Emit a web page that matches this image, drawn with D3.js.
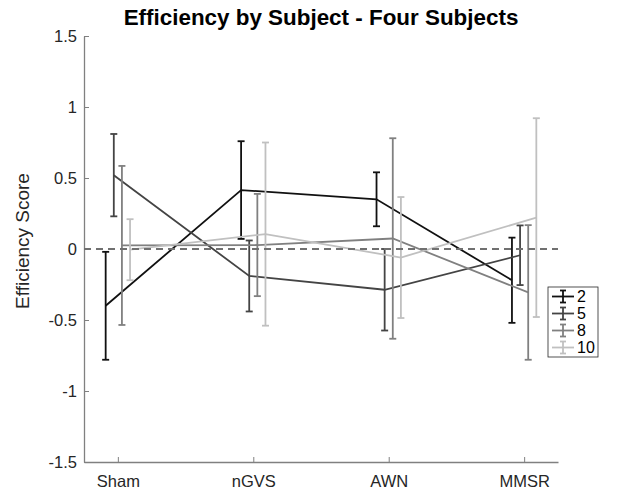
<!DOCTYPE html>
<html>
<head>
<meta charset="utf-8">
<script src="https://cdn.jsdelivr.net/npm/d3@7"></script>
<style>
  html, body { margin: 0; padding: 0; background: #fff; }
  svg { display: block; font-family: "Liberation Sans", Arial, sans-serif; }
</style>
</head>
<body>
<svg id="chart" width="638" height="493"></svg>
<script>
// ---- data ----
const conditions = ["Sham", "nGVS", "AWN", "MMSR"];
const subjects = ["2", "5", "8", "10"];
const mean2  = [-0.40, 0.415, 0.35, -0.22];
const mean5  = [0.52, -0.19, -0.287, -0.044];
const mean8  = [0.025, 0.028, 0.074, -0.306];
const mean10 = [-0.005, 0.105, -0.06, 0.221];
const err2  = [0.38, 0.344, 0.19, 0.30];
const err5  = [0.29, 0.25, 0.287, 0.21];
const err8  = [0.56, 0.36, 0.706, 0.474];
const err10 = [0.215, 0.645, 0.426, 0.70];
const yTicks = [-1.5, -1, -0.5, 0, 0.5, 1, 1.5];
const titleText = "Efficiency by Subject - Four Subjects";
const yLabelText = "Efficiency Score";

const means = [mean2, mean5, mean8, mean10];
const errs = [err2, err5, err8, err10];
const colors = ["#111111", "#444444", "#808080", "#c0c0c0"];
const offsets = [-0.09, -0.03, 0.03, 0.09];

const svg = d3.select("#chart");
const L = 84, R = 558, T = 36, B = 462;
const x = d3.scaleLinear().domain([0.75, 4.25]).range([L, R]);
const y = d3.scaleLinear().domain([-1.5, 1.5]).range([B, T]);
const axisColor = "#808080";
const textColor = "#262626";

// title
const title = svg.append("text")
  .attr("x", (L + R) / 2).attr("y", 25)
  .attr("text-anchor", "middle")
  .attr("font-weight", "bold").attr("font-size", 17.5)
  .attr("fill", "#000")
  .text(titleText);
{
  const w = title.node().getComputedTextLength();
  title.attr("font-size", 17.5 * 395 / w);
}

// y label
svg.append("text")
  .attr("transform", `translate(29, ${(T + B) / 2 - 8}) rotate(-90)`)
  .attr("text-anchor", "middle")
  .attr("font-size", 19).attr("fill", textColor)
  .text(yLabelText);

// axes
const gx = svg.append("g").attr("transform", `translate(0,${B})`)
  .call(d3.axisBottom(x).tickValues([1, 2, 3, 4]).tickFormat(d => conditions[d - 1])
    .tickSizeInner(-5).tickSizeOuter(0).tickPadding(10));
const gy = svg.append("g").attr("transform", `translate(${L},0)`)
  .call(d3.axisLeft(y).tickValues(yTicks).tickFormat(d => d3.format("")(d).replace("−", "-"))
    .tickSizeInner(-5).tickSizeOuter(0).tickPadding(7));
[gx, gy].forEach(g => {
  g.select(".domain").attr("stroke", axisColor).attr("stroke-width", 1.3);
  g.selectAll(".tick line").attr("stroke", axisColor).attr("stroke-width", 1);
  g.selectAll(".tick text").attr("fill", textColor).attr("font-size", 16.5)
    .attr("font-family", "Liberation Sans, Arial, sans-serif");
});
gx.selectAll(".tick text").attr("dy", "0.9em");

// series
const cap = 3.5;
subjects.forEach((s, i) => {
  const pts = conditions.map((c, j) => ({ xv: j + 1 + offsets[i], m: means[i][j], e: errs[i][j] }));
  const g = svg.append("g");
  g.append("path")
    .attr("d", d3.line().x(d => x(d.xv)).y(d => y(d.m))(pts))
    .attr("fill", "none").attr("stroke", colors[i]).attr("stroke-width", 1.8);
  pts.forEach(d => {
    const cx = x(d.xv), y1 = y(d.m + d.e), y2 = y(d.m - d.e);
    g.append("line").attr("x1", cx).attr("x2", cx).attr("y1", y1).attr("y2", y2)
      .attr("stroke", colors[i]).attr("stroke-width", 1.8);
    [y1, y2].forEach(yy => g.append("line").attr("x1", cx - cap).attr("x2", cx + cap)
      .attr("y1", yy).attr("y2", yy).attr("stroke", colors[i]).attr("stroke-width", 1.8));
  });
});

// zero line
svg.append("line").attr("x1", L).attr("x2", R).attr("y1", y(0)).attr("y2", y(0))
  .attr("stroke", "#707070").attr("stroke-width", 1.8).attr("stroke-dasharray", "7,5");

// legend
const lgX = 548, lgY = 287, lgW = 50, rowH = 17;
const lg = svg.append("g");
lg.append("rect").attr("x", lgX).attr("y", lgY).attr("width", lgW).attr("height", rowH * subjects.length + 2)
  .attr("fill", "#fff").attr("stroke", textColor).attr("stroke-width", 0.8);
subjects.forEach((s, i) => {
  const cy = lgY + 9.5 + i * rowH;
  lg.append("line").attr("x1", lgX + 4).attr("x2", lgX + 26).attr("y1", cy).attr("y2", cy)
    .attr("stroke", colors[i]).attr("stroke-width", 1.8);
  lg.append("line").attr("x1", lgX + 15).attr("x2", lgX + 15).attr("y1", cy - 6).attr("y2", cy + 6)
    .attr("stroke", colors[i]).attr("stroke-width", 1.8);
  [cy - 6, cy + 6].forEach(yy => lg.append("line").attr("x1", lgX + 12).attr("x2", lgX + 18)
    .attr("y1", yy).attr("y2", yy).attr("stroke", colors[i]).attr("stroke-width", 1.8));
  lg.append("text").attr("x", lgX + 29).attr("y", cy).attr("dy", "0.36em")
    .attr("font-size", 16).attr("fill", "#000").text(s);
});
</script>
</body>
</html>
